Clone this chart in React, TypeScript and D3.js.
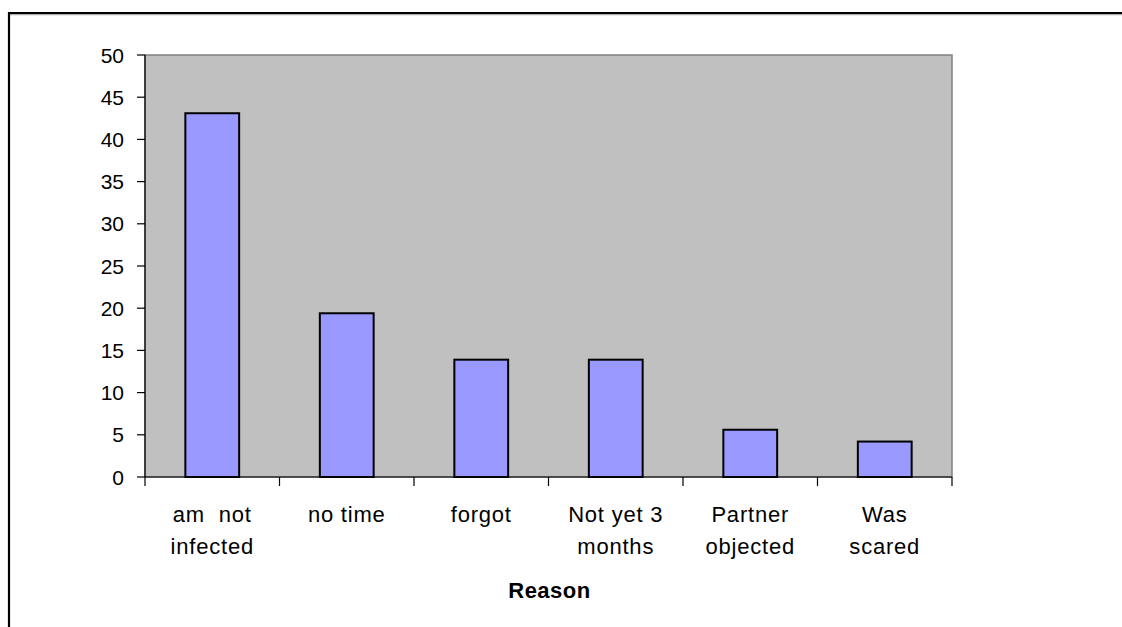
import React from "react";
import * as d3 from "d3";

// Reasons given and the percentage of respondents citing each one
const reasons: string[][] = [
  ["am  not", "infected"],
  ["no time"],
  ["forgot"],
  ["Not yet 3", "months"],
  ["Partner", "objected"],
  ["Was", "scared"],
];
const percents: number[] = [43.1, 19.4, 13.9, 13.9, 5.6, 4.2];
const yTicks: number[] = [0, 5, 10, 15, 20, 25, 30, 35, 40, 45, 50];
const xAxisTitle = "Reason";

const W = 1122;
const H = 627;
const plot = { left: 145, right: 952, top: 55, bottom: 477 };
const FONT = "'Liberation Sans', Arial, Helvetica, sans-serif";

export default function App() {
  const keys = reasons.map((r, i) => String(i));
  const x = d3
    .scaleBand<string>()
    .domain(keys)
    .range([plot.left, plot.right])
    .paddingInner(0.6)
    .paddingOuter(0.3);
  const y = d3.scaleLinear().domain([0, 50]).range([plot.bottom, plot.top]);
  const step = x.step();
  const boundaries = d3.range(reasons.length + 1).map((i) => plot.left + i * step);

  return (
    <div style={{ position: "absolute", left: 0, top: 0 }}>
      <svg width={W} height={H} style={{ display: "block" }}>
        <rect x={0} y={0} width={W} height={H} fill="#ffffff" />

        {/* outer frame */}
        <line x1={8} x2={W} y1={14.6} y2={14.6} stroke="#b0b0b0" strokeWidth={1.2} />
        <line x1={9} x2={W} y1={13} y2={13} stroke="#000" strokeWidth={2.2} />
        <line x1={9} x2={9} y1={12} y2={H} stroke="#000" strokeWidth={2.2} />

        {/* plot area */}
        <rect
          x={plot.left}
          y={plot.top}
          width={plot.right - plot.left}
          height={plot.bottom - plot.top}
          fill="#c0c0c0"
          stroke="#808080"
          strokeWidth={1.5}
        />

        {/* bars */}
        {percents.map((v, i) => (
          <rect
            key={i}
            x={x(String(i))}
            y={y(v)}
            width={x.bandwidth()}
            height={y(0) - y(v)}
            fill="#9999ff"
            stroke="#000"
            strokeWidth={2}
          />
        ))}

        {/* y axis */}
        <line x1={plot.left} x2={plot.left} y1={plot.top} y2={plot.bottom} stroke="#000" strokeWidth={1.2} />
        {yTicks.map((t) => (
          <g key={t}>
            <line x1={plot.left - 8} x2={plot.left} y1={y(t)} y2={y(t)} stroke="#000" strokeWidth={1.2} />
            <text
              x={124}
              y={y(t)}
              dy="0.36em"
              textAnchor="end"
              fontFamily={FONT}
              fontSize={21}
              fill="#000"
            >
              {t}
            </text>
          </g>
        ))}

        {/* x axis */}
        <line x1={plot.left} x2={plot.right} y1={plot.bottom} y2={plot.bottom} stroke="#000" strokeWidth={1.2} />
        {boundaries.map((bx, i) => (
          <line key={i} x1={bx} x2={bx} y1={plot.bottom} y2={plot.bottom + 9} stroke="#000" strokeWidth={1.2} />
        ))}
        {reasons.map((lines, i) => {
          const cx = (x(String(i)) as number) + x.bandwidth() / 2;
          return (
            <text
              key={i}
              x={cx}
              y={522}
              textAnchor="middle"
              fontFamily={FONT}
              fontSize={22}
              letterSpacing={0.8}
              fill="#000"
              style={{ whiteSpace: "pre" }}
            >
              {lines.map((ln, j) => (
                <tspan key={j} x={cx} y={522 + j * 31.6}>
                  {ln}
                </tspan>
              ))}
            </text>
          );
        })}
        <text
          x={(plot.left + plot.right) / 2 + 1}
          y={598}
          textAnchor="middle"
          fontFamily={FONT}
          fontSize={22}
          fontWeight="bold"
          letterSpacing={0.5}
          fill="#000"
        >
          {xAxisTitle}
        </text>
      </svg>
    </div>
  );
}
